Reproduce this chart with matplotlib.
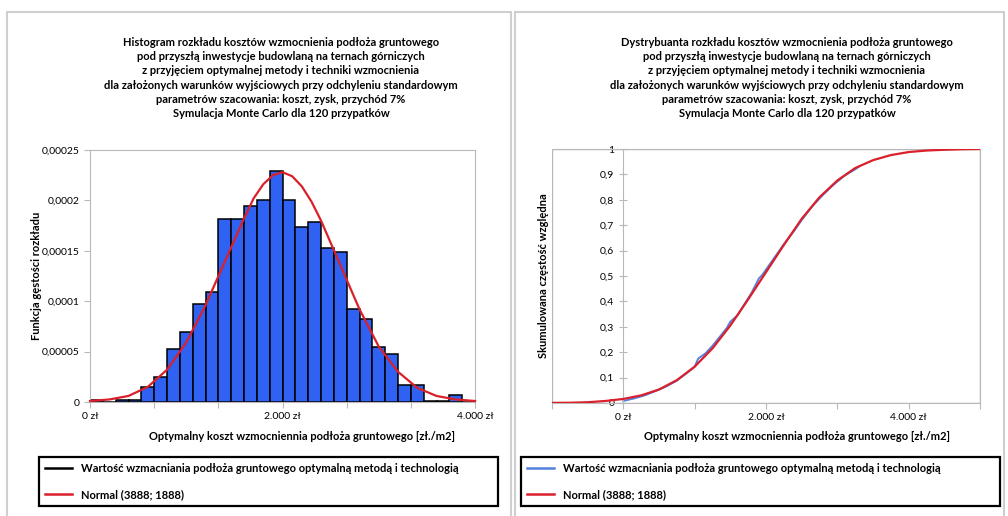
import numpy as np
import matplotlib
matplotlib.use("Agg")
from matplotlib import pyplot as plt
from matplotlib.lines import Line2D
from matplotlib.patches import Rectangle
from matplotlib.ticker import FixedLocator, FuncFormatter

plt.rcParams['font.family'] = ['Lato', 'DejaVu Sans']

# histogram: 30 bins between 0 and 4000 zl, density values
hist_edges = np.linspace(0, 4000, 31)
hist_density = [0.0000015, 0.0, 0.0000023, 0.0000023, 0.0000152, 0.0000248,
                0.0000525, 0.0000697, 0.0000971, 0.0001093, 0.000182, 0.000182,
                0.000194, 0.0002, 0.0002295, 0.0002, 0.0001734, 0.0001783,
                0.0001532, 0.000149, 0.0000921, 0.0000822, 0.0000545, 0.0000472,
                0.0000172, 0.0000172, 0.0000012, 0.0000012, 0.0000069, 0.0]

# fitted normal density
pdf_x = [0, 200, 400, 600, 800, 1000, 1200, 1400, 1600, 1700, 1800, 1900, 2000,
         2100, 2200, 2300, 2400, 2600, 2800, 3000, 3200, 3400, 3600, 3800, 4000]
pdf_y = [0.0000010, 0.0000025, 0.0000060, 0.0000150, 0.000032, 0.000059,
         0.000096, 0.000139, 0.000182, 0.000202, 0.000216, 0.000225, 0.000228,
         0.000224, 0.000214, 0.000199, 0.000180, 0.000136, 0.000092, 0.000055,
         0.000030, 0.000014, 0.0000060, 0.0000025, 0.0000010]

# cumulative: normal fit
cdf_x = [-1000, -750, -500, -250, 0, 250, 500, 750, 1000, 1250, 1500, 1750, 2000,
         2250, 2500, 2750, 3000, 3250, 3500, 3750, 4000, 4250, 4500, 4750, 5000]
cdf_y = [0.0005, 0.001, 0.003, 0.008, 0.016, 0.030, 0.053, 0.090, 0.143, 0.215,
         0.305, 0.408, 0.515, 0.622, 0.725, 0.810, 0.876, 0.925, 0.956, 0.976,
         0.988, 0.994, 0.997, 0.999, 1.0]

# cumulative: simulated values
emp_x = [0, 150, 300, 450, 600, 750, 900, 1000, 1050, 1150, 1250, 1350, 1450,
         1500, 1600, 1700, 1800, 1900, 1950, 2050, 2150, 2250, 2400, 2500, 2650,
         2800, 2950, 3100, 3250, 3300]
emp_y = [0.008, 0.018, 0.030, 0.047, 0.065, 0.088, 0.12, 0.143, 0.175, 0.195,
         0.225, 0.26, 0.295, 0.32, 0.345, 0.39, 0.435, 0.49, 0.505, 0.545, 0.585,
         0.625, 0.68, 0.72, 0.775, 0.82, 0.86, 0.895, 0.92, 0.93]

title_lines = [
    "rozkładu kosztów wzmocnienia podłoża gruntowego",
    "pod przyszłą inwestycje budowlaną na ternach górniczych",
    "z przyjęciem optymalnej metody i techniki wzmocnienia",
    "dla założonych warunków wyjściowych przy odchyleniu standardowym",
    "parametrów szacowania: koszt, zysk, przychód 7%",
    "Symulacja Monte Carlo dla 120 przypatków",
]
xlabel = "Optymalny koszt wzmocniennia podłoża gruntowego [zł./m2]"
lab_sim = "Wartość wzmacniania podłoża gruntowego optymalną metodą i technologią"
lab_norm = "Normal (3888; 1888)"

RED = '#D9202B'
BAR = '#2F62F2'
BLUE = '#5580DD'
GRID = '#B8B8B8'
W, H = 1008, 516


def fx(px):
    return px / W


def fy(py):
    return 1 - py / H


def zl(v, pos=None):
    if v == 0:
        return "0 zł"
    return "{:,.0f} zł".format(v).replace(",", ".")


def comma(v, pos=None):
    s = "{:.5f}".format(v).rstrip("0").rstrip(".")
    return s.replace(".", ",")


fig = plt.figure(figsize=(W / 100, H / 100), dpi=100)

# panel frames
for x0, x1 in [(7, 511), (515, 1004)]:
    fig.add_artist(Rectangle((fx(x0), fy(530)), fx(x1 - x0), (530 - 12) / H,
                             transform=fig.transFigure, fill=False,
                             edgecolor='#CFCFCF', lw=1.5))

# ---------------- left: histogram ----------------
ax1 = fig.add_axes([fx(90), fy(402), fx(475 - 90), (402 - 150) / H])
ax1.bar(hist_edges[:-1], hist_density, width=np.diff(hist_edges), align='edge',
        color=BAR, edgecolor='black', linewidth=1.1, zorder=2)
ax1.plot(pdf_x, pdf_y, color=RED, lw=1.6, zorder=3, clip_on=False)
ax1.set_xlim(0, 4000)
ax1.set_ylim(0, 0.00025)
ax1.yaxis.set_major_locator(FixedLocator([0, 0.00005, 0.0001, 0.00015, 0.0002, 0.00025]))
ax1.yaxis.set_major_formatter(FuncFormatter(comma))
ax1.xaxis.set_major_locator(FixedLocator(hist_edges[::5]))
ax1.xaxis.set_major_formatter(FuncFormatter(
    lambda v, p: zl(v) if round(v) in (0, 2000, 4000) else ""))
ax1.set_ylabel("Funkcja gęstości rozkładu", fontsize=8, fontweight='bold')
ax1.yaxis.set_label_coords(-0.125, 0.5)
ax1.set_xlabel(xlabel, fontsize=8, fontweight='bold')
ax1.xaxis.set_label_coords(0.551, -0.115)
ax1.legend(handles=[Line2D([], [], color='black', lw=1.8),
                    Line2D([], [], color=RED, lw=1.8)],
           labels=[lab_sim, lab_norm], loc='upper left',
           bbox_to_anchor=(fx(39), fy(512), fx(498 - 39), 55 / H),
           bbox_transform=fig.transFigure, mode='expand', borderaxespad=0,
           fancybox=False, edgecolor='black', framealpha=1, labelspacing=1.35,
           handlelength=2.4, borderpad=0.55, prop={'size': 8, 'weight': 'bold'})
ax1.get_legend().get_frame().set_linewidth(1.6)
fig.text(fx(281), fy(37), "Histogram " + "\n".join(title_lines), ha='center',
         va='top', fontsize=8, fontweight='bold', linespacing=1.36)

# ---------------- right: cumulative ----------------
ax2 = fig.add_axes([fx(552), fy(403), fx(980 - 552), (403 - 149) / H])
ax2.plot(emp_x, emp_y, color=BLUE, lw=1.4, zorder=2)
ax2.plot(cdf_x, cdf_y, color=RED, lw=1.6, zorder=3)
ax2.set_xlim(-1000, 5000)
ax2.set_ylim(0, 1)
ax2.spines['left'].set_position(('data', 0))
ax2.add_patch(Rectangle((0, 0), 1, 1, transform=ax2.transAxes, fill=False,
                        edgecolor=GRID, lw=1.0, zorder=1))
ax2.yaxis.set_major_locator(FixedLocator(np.round(np.arange(0, 1.01, 0.1), 1)))
ax2.yaxis.set_major_formatter(FuncFormatter(lambda v, p: comma(round(v, 1))))
ax2.xaxis.set_major_locator(FixedLocator([-1000, 0, 1000, 2000, 3000, 4000, 5000]))
ax2.xaxis.set_major_formatter(FuncFormatter(
    lambda v, p: zl(v) if round(v) in (0, 2000, 4000) else ""))
ax2.set_ylabel("Skumulowana częstość względna", fontsize=8, fontweight='bold')
ax2.yaxis.set_label_coords(-0.006, 0.5)
ax2.set_xlabel(xlabel, fontsize=8, fontweight='bold')
ax2.xaxis.set_label_coords(0.572, -0.11)
ax2.legend(handles=[Line2D([], [], color=BLUE, lw=1.8),
                    Line2D([], [], color=RED, lw=1.8)],
           labels=[lab_sim, lab_norm], loc='upper left',
           bbox_to_anchor=(fx(521), fy(512), fx(1000 - 521), 55 / H),
           bbox_transform=fig.transFigure, mode='expand', borderaxespad=0,
           fancybox=False, edgecolor='black', framealpha=1, labelspacing=1.35,
           handlelength=2.4, borderpad=0.55, prop={'size': 8, 'weight': 'bold'})
ax2.get_legend().get_frame().set_linewidth(1.6)
fig.text(fx(787), fy(37), "Dystrybuanta " + "\n".join(title_lines), ha='center',
         va='top', fontsize=8, fontweight='bold', linespacing=1.36)

for ax in (ax1, ax2):
    for s in ax.spines.values():
        s.set_color(GRID)
    ax.tick_params(colors=GRID, labelcolor='black', labelsize=7.5, length=4)
ax2.tick_params(axis='y', direction='inout', length=6)

fig.savefig("out.png", dpi=100)
